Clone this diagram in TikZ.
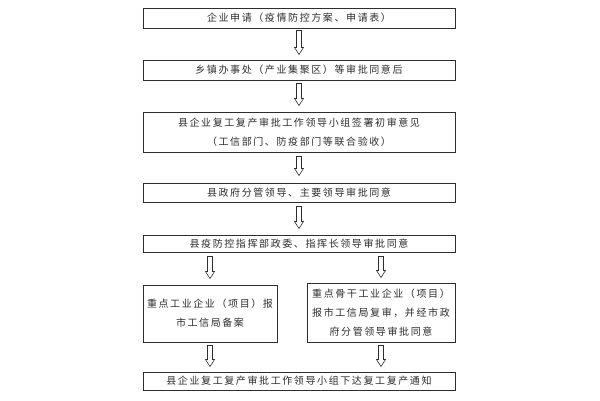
\documentclass[tikz,border=0pt]{standalone}
\usepackage{fontspec}
\usepackage{tikz}
\usetikzlibrary{calc}
\newfontfamily\cjk[LetterSpace=16]{Noto Sans CJK SC}
\definecolor{ink}{RGB}{45,45,45}

\tikzset{
  stepbox/.style={draw=ink, line width=1pt, rectangle, inner sep=0pt,
    align=center, font=\cjk\fontsize{10}{19}\selectfont, text=ink},
  arrowline/.style={draw=ink, line width=0.6pt, fill=white},
}
\newcommand{\hollowarrow}[2]{%
  \draw[arrowline] let \p1=(#1), \p2=(#2) in
    (\x1-2.5pt,\y1) -- (\x1-2.5pt,\y2+7pt) -- (\x1-4.5pt,\y2+7pt) -- (\x1,\y2)
    -- (\x1+4.5pt,\y2+7pt) -- (\x1+2.5pt,\y2+7pt) -- (\x1+2.5pt,\y1) -- cycle;}

\begin{document}
\begin{tikzpicture}[x=1pt,y=-1pt]
\useasboundingbox[fill=white] (0,0) rectangle (600,400);
%% блоки;
\node[stepbox, minimum width=312pt, minimum height=20pt] (apply) at (299,18)
  {企业申请（疫情防控方案、申请表）};
\node[stepbox, minimum width=312pt, minimum height=20pt] (town) at (299,70)
  {乡镇办事处（产业集聚区）等审批同意后};
\node[stepbox, minimum width=312pt, minimum height=40pt] (group) at (299,132)
  {县企业复工复产审批工作领导小组签署初审意见\\（工信部门、防疫部门等联合验收）};
\node[stepbox, minimum width=312pt, minimum height=19pt] (gov) at (299,192.5)
  {县政府分管领导、主要领导审批同意};
\node[stepbox, minimum width=312pt, minimum height=17pt] (hq) at (299,243.5)
  {县疫防控指挥部政委、指挥长领导审批同意};
\node[stepbox, minimum width=134pt, minimum height=57pt] (keyl) at (210,313.5)
  {重点工业企业（项目）报\\市工信局备案};
\node[stepbox, minimum width=148pt, minimum height=59pt] (keyr) at (381,312.5)
  {重点骨干工业企业（项目）\\报市工信局复审，并经市政\\府分管领导审批同意};
\node[stepbox, minimum width=312pt, minimum height=18pt] (notice) at (299,381)
  {县企业复工复产审批工作领导小组下达复工复产通知};
%% стрелки;
\hollowarrow{$(apply.south)+(0,2)$}{$(town.north)+(0,-5)$}
\hollowarrow{$(town.south)+(0,3)$}{$(group.north)+(0,-6)$}
\hollowarrow{$(group.south)+(0,4)$}{$(gov.north)+(0,-7)$}
\hollowarrow{$(gov.south)+(0,4)$}{$(hq.north)+(0,-6)$}
\hollowarrow{$(hq.south -| keyl.north)+(0,4)$}{$(keyl.north)+(0,-6)$}
\hollowarrow{$(hq.south -| keyr.north)+(0,4)$}{$(keyr.north)+(0,-5)$}
\hollowarrow{$(keyl.south)+(0,3)$}{$(notice.north -| keyl.south)+(0,-5)$}
\hollowarrow{$(keyr.south)+(0,3)$}{$(notice.north -| keyr.south)+(0,-5)$}
\end{tikzpicture}
\end{document}
